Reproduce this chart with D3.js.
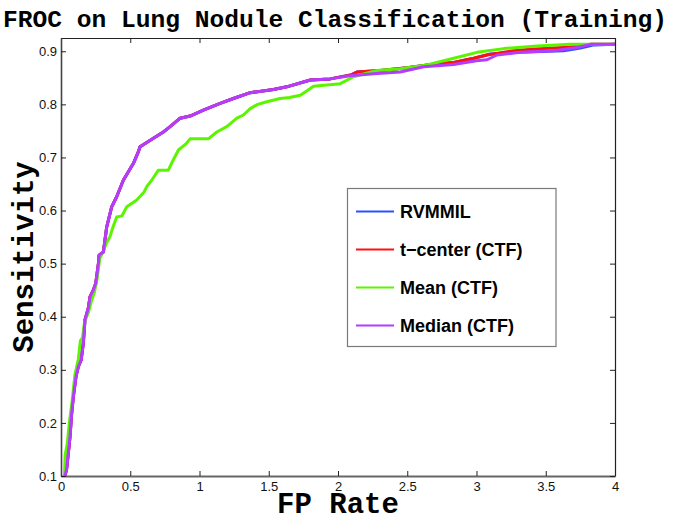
<!DOCTYPE html>
<html>
<head>
<meta charset="utf-8">
<script src="https://cdn.jsdelivr.net/npm/d3@7"></script>
<style>
body { margin: 0; background: #fff; }
</style>
</head>
<body>
<svg width="681" height="523"></svg>
<script>
// curve shared by RVMMIL, t-center and Median up to FP ~2
var sharedFP   = [0.029,0.041,0.053,0.065,0.077,0.089,0.108,0.125,0.145,0.161,0.173,0.197,0.21,0.233,0.251,0.27,0.275,0.306,0.33,0.366,0.402,0.45,0.523,0.559,0.571,0.667,0.739,0.788,0.86,0.932,1.028,1.149,1.245,1.366,1.534,1.63,1.8,1.944];
var sharedSens = [0.1,0.114,0.143,0.174,0.218,0.249,0.287,0.306,0.318,0.35,0.394,0.416,0.438,0.45,0.463,0.5,0.516,0.522,0.569,0.607,0.626,0.657,0.689,0.711,0.72,0.736,0.748,0.758,0.774,0.778,0.789,0.802,0.811,0.822,0.828,0.833,0.846,0.848];

var medianTailFP   = [2.088,2.281,2.45,2.618,2.835,3.0,3.076,3.148,3.316,3.557,3.726,3.822,4];
var medianTailSens = [0.854,0.858,0.861,0.871,0.875,0.882,0.884,0.893,0.898,0.901,0.907,0.913,0.913];

var tcenterTailFP   = [2.1,2.136,2.305,2.498,2.7,2.835,2.98,3.076,3.268,3.389,3.678,3.822,4];
var tcenterTailSens = [0.856,0.861,0.864,0.869,0.876,0.879,0.887,0.893,0.901,0.904,0.908,0.913,0.913];

var rvmmilTailFP   = [2.1,2.136,2.305,2.498,2.7,2.835,2.98,3.1,3.3,3.63,3.75,3.85,4];
var rvmmilTailSens = [0.856,0.861,0.864,0.869,0.876,0.879,0.887,0.895,0.898,0.901,0.906,0.912,0.913];

var meanFP   = [0.025,0.03,0.045,0.06,0.08,0.1,0.125,0.14,0.155,0.17,0.2,0.22,0.24,0.26,0.28,0.3,0.33,0.354,0.37,0.402,0.44,0.475,0.547,0.6,0.619,0.655,0.703,0.775,0.8,0.848,0.9,0.932,1.064,1.125,1.197,1.27,1.317,1.366,1.42,1.486,1.582,1.65,1.727,1.75,1.823,2.016,2.112,2.281,2.45,2.642,2.835,3.004,3.196,3.437,3.678,4];
var meanSens = [0.1,0.14,0.16,0.2,0.24,0.29,0.32,0.355,0.36,0.39,0.41,0.43,0.445,0.47,0.51,0.52,0.54,0.551,0.565,0.588,0.59,0.607,0.62,0.635,0.645,0.657,0.676,0.676,0.69,0.714,0.725,0.735,0.735,0.748,0.758,0.774,0.78,0.792,0.8,0.805,0.811,0.813,0.817,0.821,0.834,0.839,0.852,0.864,0.867,0.874,0.887,0.898,0.905,0.91,0.913,0.913];

var seriesNames  = ["RVMMIL", "t\u2212center (CTF)", "Mean (CTF)", "Median (CTF)"];
var seriesColors = ["#2a52ff", "#ff1010", "#5cf500", "#b43cff"];

var xTicks = [0, 0.5, 1, 1.5, 2, 2.5, 3, 3.5, 4];
var yTicks = [0.1, 0.2, 0.3, 0.4, 0.5, 0.6, 0.7, 0.8, 0.9];

function zipPts(fx, fy) {
  return fx.map(function(v, i){ return [v, fy[i]]; });
}

var series = [
  zipPts(sharedFP.concat(rvmmilTailFP), sharedSens.concat(rvmmilTailSens)),
  zipPts(sharedFP.concat(tcenterTailFP), sharedSens.concat(tcenterTailSens)),
  zipPts(meanFP, meanSens),
  zipPts(sharedFP.concat(medianTailFP), sharedSens.concat(medianTailSens))
];

var plotLeft = 61, plotRight = 615, plotTop = 38, plotBottom = 476;

var svg = d3.select('svg');

var scaleX = d3.scaleLinear().domain([0, 4]).range([plotLeft, plotRight]);
var scaleY = d3.scaleLinear().domain([0.1, 0.925]).range([plotBottom, plotTop]);

var line = d3.line()
  .x(function(d){ return scaleX(d[0]); })
  .y(function(d){ return scaleY(d[1]); });

svg.selectAll('.curve')
  .data(series)
  .enter()
  .append('path')
  .attr('class', 'curve')
  .attr('d', line)
  .attr('fill', 'none')
  .attr('stroke', function(d, i){ return seriesColors[i]; })
  .attr('stroke-width', 3)
  .attr('stroke-linejoin', 'round');

// axes (ticks point inward, like matlab)
var fmt = function(d){ return String(d); };

var xb = svg.append('g')
  .attr('transform', 'translate(0,' + plotBottom + ')')
  .call(d3.axisBottom(scaleX).tickValues(xTicks).tickFormat(fmt).tickSizeInner(-5).tickSizeOuter(0).tickPadding(6));
var xt = svg.append('g')
  .attr('transform', 'translate(0,' + plotTop + ')')
  .call(d3.axisTop(scaleX).tickValues(xTicks).tickFormat('').tickSizeInner(-5).tickSizeOuter(0));
var yl = svg.append('g')
  .attr('transform', 'translate(' + plotLeft + ',0)')
  .call(d3.axisLeft(scaleY).tickValues(yTicks).tickFormat(fmt).tickSizeInner(-5).tickSizeOuter(0).tickPadding(4));
var yr = svg.append('g')
  .attr('transform', 'translate(' + plotRight + ',0)')
  .call(d3.axisRight(scaleY).tickValues(yTicks).tickFormat('').tickSizeInner(-5).tickSizeOuter(0));

[xb, xt, yl, yr].forEach(function(g){
  g.selectAll('text')
    .attr('font-family', '"Liberation Sans", Arial, sans-serif')
    .attr('font-size', 13)
    .attr('fill', '#111');
  g.selectAll('line').attr('stroke', '#222');
  g.select('.domain').attr('stroke', '#222').attr('stroke-width', 1.2);
});
xb.select('.domain').attr('stroke', '#666').attr('stroke-width', 2);
yl.select('.domain').attr('stroke', '#444').attr('stroke-width', 1.6);

// title and axis labels
svg.append('text')
  .attr('x', 335)
  .attr('y', 27)
  .attr('text-anchor', 'middle')
  .attr('font-family', '"Liberation Mono", "Courier New", monospace')
  .attr('font-weight', 'bold')
  .attr('font-size', 24.6)
  .text('FROC on Lung Nodule Classification (Training)');

svg.append('text')
  .attr('x', 338)
  .attr('y', 513)
  .attr('text-anchor', 'middle')
  .attr('font-family', '"Liberation Mono", "Courier New", monospace')
  .attr('font-weight', 'bold')
  .attr('font-size', 29)
  .text('FP Rate');

svg.append('text')
  .attr('transform', 'translate(33,257) rotate(-90)')
  .attr('text-anchor', 'middle')
  .attr('font-family', '"Liberation Mono", "Courier New", monospace')
  .attr('font-weight', 'bold')
  .attr('font-size', 29)
  .text('Sensitivity');

// legend
var legend = svg.append('g');
legend.append('rect')
  .attr('x', 347.5)
  .attr('y', 188.5)
  .attr('width', 208.5)
  .attr('height', 158)
  .attr('fill', '#fff')
  .attr('stroke', '#7a7a7a')
  .attr('stroke-width', 1.2);

var rows = legend.selectAll('.row')
  .data(seriesNames)
  .enter()
  .append('g')
  .attr('class', 'row')
  .attr('transform', function(d, i){ return 'translate(0,' + (211.5 + i * 38) + ')'; });

rows.append('line')
  .attr('x1', 356).attr('x2', 394)
  .attr('y1', 0).attr('y2', 0)
  .attr('stroke', function(d, i){ return seriesColors[i]; })
  .attr('stroke-width', 2);

rows.append('text')
  .attr('x', 400)
  .attr('y', 6.5)
  .attr('font-family', '"Liberation Sans", Arial, sans-serif')
  .attr('font-weight', 'bold')
  .attr('font-size', 18)
  .attr('fill', '#000')
  .text(function(d){ return d; });
</script>
</body>
</html>
